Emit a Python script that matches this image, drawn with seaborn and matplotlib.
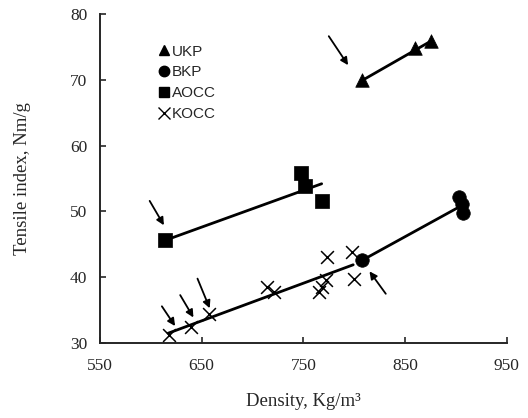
import matplotlib
matplotlib.use("Agg")
import matplotlib.pyplot as plt
import seaborn as sns
import pandas as pd
from matplotlib.lines import Line2D

# ---------------- data ---------------- #
ukp_x = [808, 860, 875]
ukp_y = [70.0, 74.8, 75.9]
bkp_x = [808, 903, 906, 907]
bkp_y = [42.6, 52.2, 51.2, 49.8]
aocc_x = [614, 748, 752, 768]
aocc_y = [45.6, 55.9, 53.9, 51.6]
kocc_x = [618, 640, 657, 714, 721, 765, 768, 772, 773, 798, 800]
kocc_y = [31.2, 32.5, 34.5, 38.6, 37.8, 37.8, 38.6, 39.6, 43.1, 43.9, 39.7]

# fitted trend lines (end points)
ukp_fit_x, ukp_fit_y = [808, 877], [69.9, 76.0]
bkp_fit_x, bkp_fit_y = [808, 901], [42.6, 50.5]
aocc_fit_x, aocc_fit_y = [614, 768], [45.6, 54.2]
kocc_fit_x, kocc_fit_y = [617, 799], [31.5, 41.9]

# arrows: (tail x, tail y, head x, head y)
arrows = [
    (775, 76.6, 794, 72.2),   # UKP
    (599, 51.6, 613, 47.9),   # AOCC
    (611, 35.6, 624, 32.6),   # KOCC
    (629, 37.3, 642, 33.9),   # KOCC
    (646, 39.8, 658, 35.3),   # KOCC
    (831, 37.5, 815, 40.9),   # BKP
]

pulps = ["UKP", "BKP", "AOCC", "KOCC"]
markers = {"UKP": "^", "BKP": "o", "AOCC": "s", "KOCC": "x"}

df = pd.concat([
    pd.DataFrame({"density": ukp_x, "tensile": ukp_y, "pulp": "UKP"}),
    pd.DataFrame({"density": bkp_x, "tensile": bkp_y, "pulp": "BKP"}),
    pd.DataFrame({"density": aocc_x, "tensile": aocc_y, "pulp": "AOCC"}),
    pd.DataFrame({"density": kocc_x, "tensile": kocc_y, "pulp": "KOCC"}),
], ignore_index=True)

sns.set_style("ticks")
plt.rcParams["font.family"] = ["Liberation Serif", "DejaVu Serif"]

fig = plt.figure(figsize=(5.28, 4.18), dpi=100)
ax = fig.add_axes([0.189, 0.179, 0.771, 0.788])

for fx, fy in [(ukp_fit_x, ukp_fit_y), (bkp_fit_x, bkp_fit_y),
               (aocc_fit_x, aocc_fit_y), (kocc_fit_x, kocc_fit_y)]:
    sns.lineplot(x=fx, y=fy, color="black", lw=2.0, ax=ax, legend=False)

for p in ["UKP", "BKP", "AOCC"]:
    sub = df[df.pulp == p]
    sns.scatterplot(data=sub, x="density", y="tensile", marker=markers[p],
                    color="black", s=95, edgecolor="black", linewidth=0.5,
                    ax=ax, legend=False, zorder=3)
sub = df[df.pulp == "KOCC"]
sns.scatterplot(data=sub, x="density", y="tensile", marker="x",
                color="black", s=85, linewidth=1.1, ax=ax, legend=False,
                zorder=3)

for tx, ty, hx, hy in arrows:
    ax.annotate("", xy=(hx, hy), xytext=(tx, ty),
                arrowprops=dict(arrowstyle="-|>", color="black", lw=1.3,
                                mutation_scale=11, shrinkA=0, shrinkB=0))

ax.set_xlim(550, 950)
ax.set_ylim(30, 80)
ax.set_xticks([550, 650, 750, 850, 950])
ax.set_yticks([30, 40, 50, 60, 70, 80])
ax.tick_params(direction="in", length=4, width=1.2, labelsize=12.5, pad=9)
ax.tick_params(axis="x", pad=11)
for s in ["top", "right"]:
    ax.spines[s].set_visible(False)
for s in ["left", "bottom"]:
    ax.spines[s].set_linewidth(1.4)

ax.set_xlabel("Density, Kg/m\u00b3", fontsize=13.5, labelpad=13)
ax.set_ylabel("Tensile index, Nm/g", fontsize=13.5, labelpad=28)

handles = [Line2D([], [], color="black", marker=markers[p], linestyle="none",
                  markersize=7.5 if p != "KOCC" else 8,
                  markeredgewidth=1.0) for p in pulps]
ax.legend(handles, pulps, loc="upper left", bbox_to_anchor=(0.13, 0.925),
          frameon=False, handlelength=0.7, handletextpad=0.15,
          labelspacing=0.45, borderaxespad=0,
          prop={"family": ["Liberation Sans", "DejaVu Sans"], "size": 11})

plt.savefig("out.png", dpi=100)
plt.close()
